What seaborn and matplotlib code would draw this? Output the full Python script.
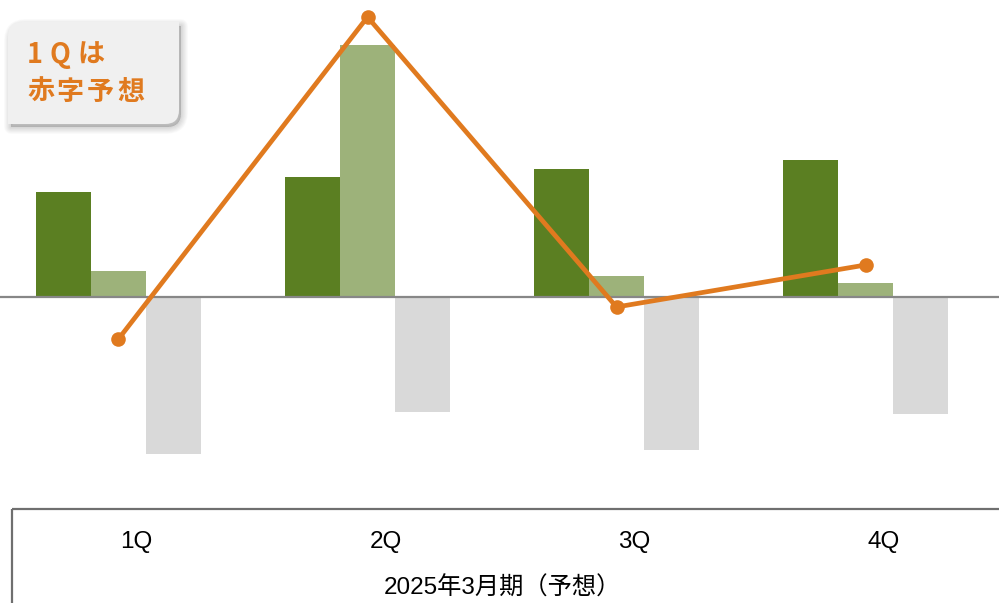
import numpy as np
import pandas as pd
import matplotlib
matplotlib.use("Agg")
import matplotlib.pyplot as plt
from matplotlib.path import Path
from matplotlib.patches import PathPatch
import seaborn as sns

# Quarterly forecast data (FY ending March 2025)
quarters = ["1Q", "2Q", "3Q", "4Q"]
series_names = ["dark", "light", "gray"]
dark_vals = [105, 120, 128, 137]
light_vals = [26, 252, 21, 14]
gray_vals = [-157, -115, -153, -117]
line_vals = [-42, 280, -10, 32]

period_label = "2025年3月期（予想）"
callout_lines = ["1Qは", "赤字予想"]

bar_colors = ["#5B7F22", "#9DB27A", "#D9D9D9"]
line_color = "#E07A1F"
axis_gray = "#6F6F6F"

sns.set_theme(style="white")
plt.rcParams["font.family"] = ["Liberation Sans", "Noto Sans CJK JP", "DejaVu Sans"]

W, H = 999, 603
fig = plt.figure(figsize=(W / 100, H / 100), dpi=100)

# layout in pixels
cat_w = 249.0          # pixel width of one quarter
group_c0 = 118.5       # pixel x of first group centre
zero_px = 297.0        # pixel y of zero line
plot_bottom = 510.0    # pixel y where the chart area ends

ax = fig.add_axes([0, 1 - plot_bottom / H, 1, plot_bottom / H])

df = pd.DataFrame({
    "quarter": np.repeat(quarters, 3),
    "series": series_names * len(quarters),
    "value": np.ravel(np.column_stack([dark_vals, light_vals, gray_vals])),
})

sns.barplot(data=df, x="quarter", y="value", hue="series", hue_order=series_names,
            palette=bar_colors, saturation=1, width=3 * 55 / cat_w, dodge=True,
            linewidth=0, legend=False, ax=ax, zorder=2)

ax.axhline(0, color="#878787", lw=1.6, zorder=3)

sns.lineplot(x=np.arange(len(quarters)), y=line_vals, color=line_color, lw=3.4,
             marker="o", markersize=10.5, markeredgewidth=0, ax=ax, zorder=4,
             legend=False)

ax.set_xlim(-group_c0 / cat_w, (W - group_c0) / cat_w)
ax.set_ylim(zero_px - plot_bottom, zero_px)
ax.set_axis_off()

# overlay in pixel coordinates for the category table and callout
ov = fig.add_axes([0, 0, 1, 1], facecolor="none")
ov.set_xlim(0, W)
ov.set_ylim(H, 0)
ov.set_axis_off()

# category table frame
ov.plot([12, W + 5], [509, 509], color=axis_gray, lw=1.6, solid_capstyle="butt")
ov.plot([12, 12], [509, H + 5], color=axis_gray, lw=1.6, solid_capstyle="butt")

for i, q in enumerate(quarters):
    ov.text(136.5 + cat_w * i, 542, q, ha="center", va="center",
            fontsize=17.5, color="#000000")
ov.text(502, 588, period_label, ha="center", va="center", fontsize=17.5,
        color="#000000")


def diag_round_rect(x0, y0, x1, y1, r):
    verts = [(x0 + r, y0), (x1, y0), (x1, y1 - r), (x1, y1), (x1 - r, y1),
             (x0, y1), (x0, y0 + r), (x0, y0), (x0 + r, y0), (x0 + r, y0)]
    codes = [Path.MOVETO, Path.LINETO, Path.LINETO, Path.CURVE3, Path.CURVE3,
             Path.LINETO, Path.LINETO, Path.CURVE3, Path.CURVE3, Path.CLOSEPOLY]
    return Path(verts, codes)


bx0, by0, bx1, by1 = 8, 22, 179, 124
# soft shadow built from stacked translucent outlines
for lw in np.linspace(10, 1, 10):
    ov.add_patch(PathPatch(diag_round_rect(bx0 + 3, by0 + 4, bx1 + 2, by1 + 3, 14),
                           facecolor="#000000", edgecolor="#000000", lw=lw,
                           alpha=0.014, joinstyle="round"))
ov.add_patch(PathPatch(diag_round_rect(bx0, by0, bx1, by1, 14),
                       facecolor="#F0F0F0", edgecolor="none"))

# callout text, laid out glyph by glyph for letter spacing
line1_x = [35, 60, 91]
line2_x = [41, 70, 100, 131]
for ch, x in zip(callout_lines[0], line1_x):
    ov.text(x, 55, ch, ha="center", va="center", fontsize=19.5, fontweight="bold",
            color=line_color, family=["Noto Sans CJK JP", "DejaVu Sans"])
for ch, x in zip(callout_lines[1], line2_x):
    ov.text(x, 92, ch, ha="center", va="center", fontsize=19.5, fontweight="bold",
            color=line_color, family=["Noto Sans CJK JP", "DejaVu Sans"])

fig.savefig("out.png", dpi=100)
